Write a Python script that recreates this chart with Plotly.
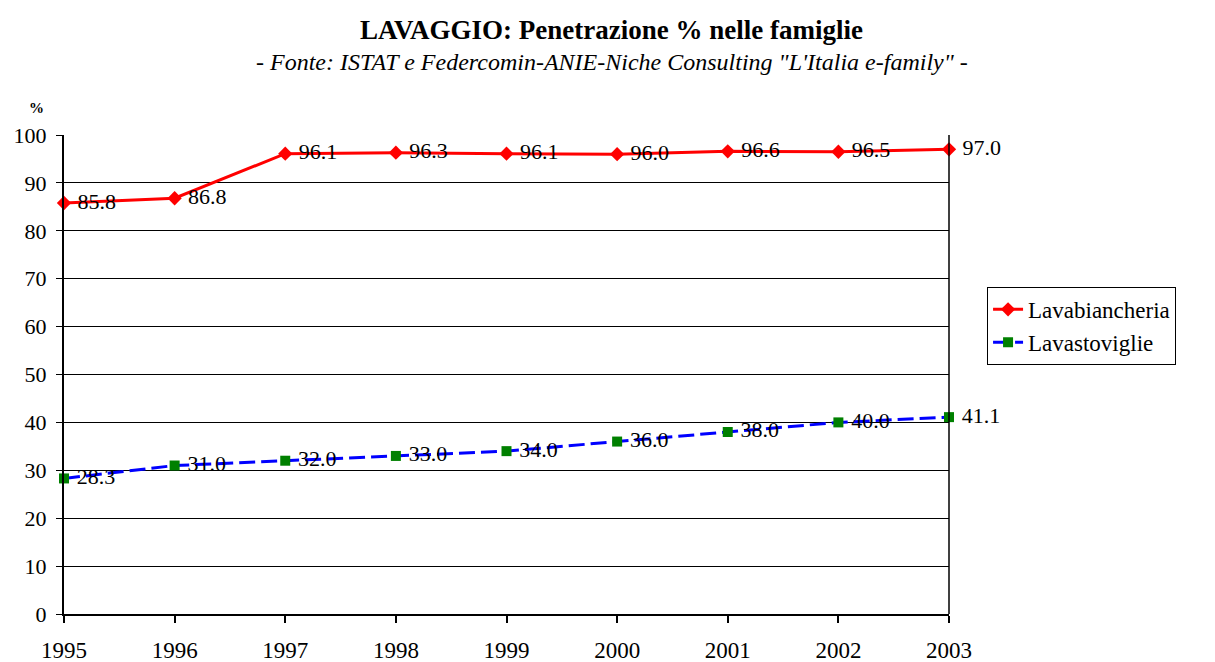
import plotly.graph_objects as go

# Data
years = [1995, 1996, 1997, 1998, 1999, 2000, 2001, 2002, 2003]
lavabiancheria = [85.8, 86.8, 96.1, 96.3, 96.1, 96.0, 96.6, 96.5, 97.0]
lavastoviglie = [28.3, 31.0, 32.0, 33.0, 34.0, 36.0, 38.0, 40.0, 41.1]

FONT = "Liberation Serif, Times New Roman, serif"

fig = go.Figure()

fig.add_trace(go.Scatter(
    x=years, y=lavabiancheria, name="Lavabiancheria",
    mode="lines+markers+text",
    line=dict(color="#ff0000", width=3),
    marker=dict(symbol="diamond", size=11, color="#ff0000"),
    text=[f" {v:.1f}" for v in lavabiancheria],
    textposition="middle right",
    textfont=dict(family=FONT, size=22, color="#000000"),
    cliponaxis=False,
))

fig.add_trace(go.Scatter(
    x=years, y=lavastoviglie, name="Lavastoviglie",
    mode="lines+markers+text",
    line=dict(color="#0000ff", width=3, dash="16px,6px"),
    marker=dict(symbol="square", size=10, color="#008000"),
    text=[f" {v:.1f}" for v in lavastoviglie],
    textposition="middle right",
    textfont=dict(family=FONT, size=22, color="#000000"),
    cliponaxis=False,
))

# the page body has an 8px margin, so the figure is 8px smaller than the window
fig.update_layout(
    width=1207, height=654,
    margin=dict(l=56, r=266, t=127, b=48),
    paper_bgcolor="white", plot_bgcolor="white",
    font=dict(family=FONT, size=22, color="#000000"),
    showlegend=True,
    legend=dict(
        x=1.043, y=0.683, xanchor="left", yanchor="top",
        bordercolor="#000000", borderwidth=1,
        font=dict(family=FONT, size=23, color="#000000"),
        tracegroupgap=0,
    ),
    annotations=[
        dict(text="<b>LAVAGGIO: Penetrazione % nelle famiglie</b>",
             xref="paper", yref="paper", x=0.619, y=1.219,
             xanchor="center", yanchor="middle",
             showarrow=False, font=dict(family=FONT, size=27)),
        dict(text="<i>- Fonte: ISTAT e Federcomin-ANIE-Niche Consulting \"L'Italia e-family\" -</i>",
             xref="paper", yref="paper", x=0.619, y=1.152,
             xanchor="center", yanchor="middle",
             showarrow=False, font=dict(family=FONT, size=24)),
        dict(text="<b>%</b>", xref="paper", yref="paper", x=-0.031, y=1.056,
             xanchor="center", yanchor="middle",
             showarrow=False, font=dict(family=FONT, size=15)),
    ],
)

fig.update_xaxes(
    range=[1995, 2003], tickmode="array", tickvals=years,
    ticktext=[str(y) for y in years],
    showgrid=False, zeroline=False, automargin=False,
    showline=True, linecolor="#000000", linewidth=2, mirror=False,
    ticks="outside", ticklen=7, tickwidth=2, tickcolor="#000000",
    ticklabelstandoff=7,
    tickfont=dict(family=FONT, size=23),
)

fig.update_yaxes(
    range=[0, 100], dtick=10, automargin=False,
    showgrid=True, gridcolor="#000000", gridwidth=1, zeroline=False,
    showline=True, linecolor="#000000", linewidth=2,
    ticks="outside", ticklen=6, tickwidth=1, tickcolor="#000000",
    ticklabelstandoff=5,
    tickfont=dict(family=FONT, size=22),
)

# right border of the plot area
fig.add_shape(type="line", xref="paper", yref="paper", x0=1, x1=1, y0=0, y1=1,
              line=dict(color="#000000", width=1.5))

fig.write_html("out.html")
